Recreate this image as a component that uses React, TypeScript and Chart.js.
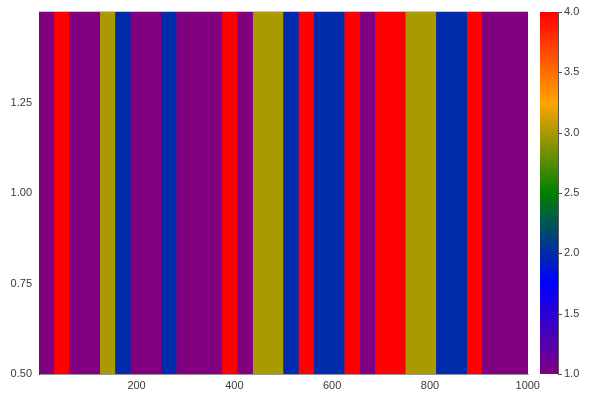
import { useEffect, useRef } from "react";
import { Chart, registerables } from "chart.js";

Chart.register(...registerables);

// ---- data ----
const xRange = [0.5, 1000.5];
const yRange = [0.5, 1.5];
// value of each of the 32 equal-width blocks along x
const blockValues = [
  1, 4, 1, 1, 3, 2, 1, 1, 2, 1, 1, 1, 4, 1, 3, 3,
  2, 4, 2, 2, 4, 1, 4, 4, 3, 3, 2, 2, 4, 1, 1, 1,
];
const xTicks = [200, 400, 600, 800, 1000];
const yTicks = [0.5, 0.75, 1.0, 1.25];
const colorbarTicks = [1.0, 1.5, 2.0, 2.5, 3.0, 3.5, 4.0];
const colorRange = [1, 4];
const colorStops = ["#800080", "#0000ff", "#008000", "#ffa500", "#ff0000"];

const FONT = { family: "'Liberation Sans', Arial, Helvetica, sans-serif", size: 11 };
const TEXT = "#3a3a3a";

function hexToRgb(h: string) {
  const n = parseInt(h.slice(1), 16);
  return [(n >> 16) & 255, (n >> 8) & 255, n & 255];
}

function colorFor(v: number) {
  const t = Math.min(1, Math.max(0, (v - colorRange[0]) / (colorRange[1] - colorRange[0])));
  const seg = t * (colorStops.length - 1);
  const i = Math.min(colorStops.length - 2, Math.floor(seg));
  const f = seg - i;
  const a = hexToRgb(colorStops[i]);
  const b = hexToRgb(colorStops[i + 1]);
  const c = a.map((x, k) => Math.round(x + (b[k] - x) * f));
  return `rgb(${c[0]},${c[1]},${c[2]})`;
}

// merge consecutive equal blocks into segments
function buildSegments() {
  const w = (xRange[1] - xRange[0]) / blockValues.length;
  const segs: { start: number; end: number; v: number }[] = [];
  blockValues.forEach((v, i) => {
    const s = xRange[0] + i * w;
    const e = s + w;
    const last = segs[segs.length - 1];
    if (last && last.v === v) last.end = e;
    else segs.push({ start: s, end: e, v });
  });
  return segs;
}

function noPad(s: any) {
  s.paddingTop = 0;
  s.paddingBottom = 0;
  s.paddingLeft = 0;
  s.paddingRight = 0;
}

const colorbarPlugin = {
  id: "colorbar",
  afterDraw(chart: any) {
    const c = chart.scales.c;
    const ctx = chart.ctx;
    const left = chart.chartArea.right + 12;
    const width = 18;
    const top = c.getPixelForValue(colorRange[1]);
    const bottom = c.getPixelForValue(colorRange[0]);
    const g = ctx.createLinearGradient(0, bottom, 0, top);
    colorStops.forEach((col, i) => g.addColorStop(i / (colorStops.length - 1), col));
    ctx.save();
    ctx.fillStyle = g;
    ctx.fillRect(left, top, width, bottom - top);
    ctx.strokeStyle = "#555";
    ctx.lineWidth = 1;
    ctx.beginPath();
    ctx.moveTo(left + width + 0.5, top);
    ctx.lineTo(left + width + 0.5, bottom);
    colorbarTicks.forEach((t) => {
      const y = Math.round(c.getPixelForValue(t)) + 0.5;
      ctx.moveTo(left + width, y);
      ctx.lineTo(left + width + 4, y);
    });
    ctx.stroke();
    // faint frame line along the top of the heatmap
    ctx.strokeStyle = "#c8c8c8";
    ctx.beginPath();
    ctx.moveTo(chart.chartArea.left, chart.chartArea.top - 0.5);
    ctx.lineTo(chart.chartArea.right, chart.chartArea.top - 0.5);
    ctx.stroke();
    ctx.restore();
  },
};

export default function App() {
  const ref = useRef<HTMLCanvasElement | null>(null);

  useEffect(() => {
    if (!ref.current) return;
    const segs = buildSegments();
    // each segment is filled from the left edge to its end; earlier datasets are drawn on top
    const datasets = segs.map((s) => ({
      type: "line" as const,
      data: [
        { x: xRange[0], y: yRange[1] },
        { x: s.end, y: yRange[1] },
      ],
      yAxisID: "y",
      xAxisID: "x",
      borderWidth: 0,
      pointRadius: 0,
      backgroundColor: colorFor(s.v),
      borderColor: colorFor(s.v),
      fill: { value: yRange[0] },
    }));

    const chart = new Chart(ref.current, {
      type: "line",
      data: { datasets },
      plugins: [colorbarPlugin],
      options: {
        animation: false,
        responsive: false,
        layout: { padding: { top: 12, left: 0, right: 0, bottom: 0 } },
        plugins: { legend: { display: false }, tooltip: { enabled: false } },
        scales: {
          x: {
            type: "linear",
            min: xRange[0],
            max: xRange[1],
            afterBuildTicks: (s: any) => {
              s.ticks = xTicks.map((v) => ({ value: v }));
            },
            afterFit: (s: any) => {
              s.height = 26;
              noPad(s);
            },
            grid: { display: false, drawTicks: false },
            border: { display: true, color: "#999", width: 1 },
            ticks: {
              font: FONT,
              color: TEXT,
              padding: 5,
              maxRotation: 0,
              callback: (v: any) => String(v),
            },
          },
          y: {
            type: "linear",
            position: "left",
            min: yRange[0],
            max: yRange[1],
            afterBuildTicks: (s: any) => {
              s.ticks = yTicks.map((v) => ({ value: v }));
            },
            afterFit: (s: any) => {
              s.width = 39;
              noPad(s);
            },
            grid: { display: false, drawTicks: false },
            border: { display: true, color: "#333", width: 1 },
            ticks: {
              font: FONT,
              color: TEXT,
              padding: 7,
              callback: (v: any) => Number(v).toFixed(2),
            },
          },
          c: {
            type: "linear",
            position: "right",
            min: colorRange[0],
            max: colorRange[1],
            afterBuildTicks: (s: any) => {
              s.ticks = colorbarTicks.map((v) => ({ value: v }));
            },
            afterFit: (s: any) => {
              s.width = 72;
              noPad(s);
            },
            grid: { display: false, drawTicks: false },
            border: { display: false },
            ticks: {
              font: FONT,
              color: TEXT,
              padding: 36,
              callback: (v: any) => Number(v).toFixed(1),
            },
          },
        },
      },
    } as any);

    return () => chart.destroy();
  }, []);

  return (
    <div style={{ position: "absolute", left: 0, top: 0, width: 600, height: 400, background: "#fff" }}>
      <canvas ref={ref} width={600} height={400} style={{ display: "block" }} />
    </div>
  );
}
